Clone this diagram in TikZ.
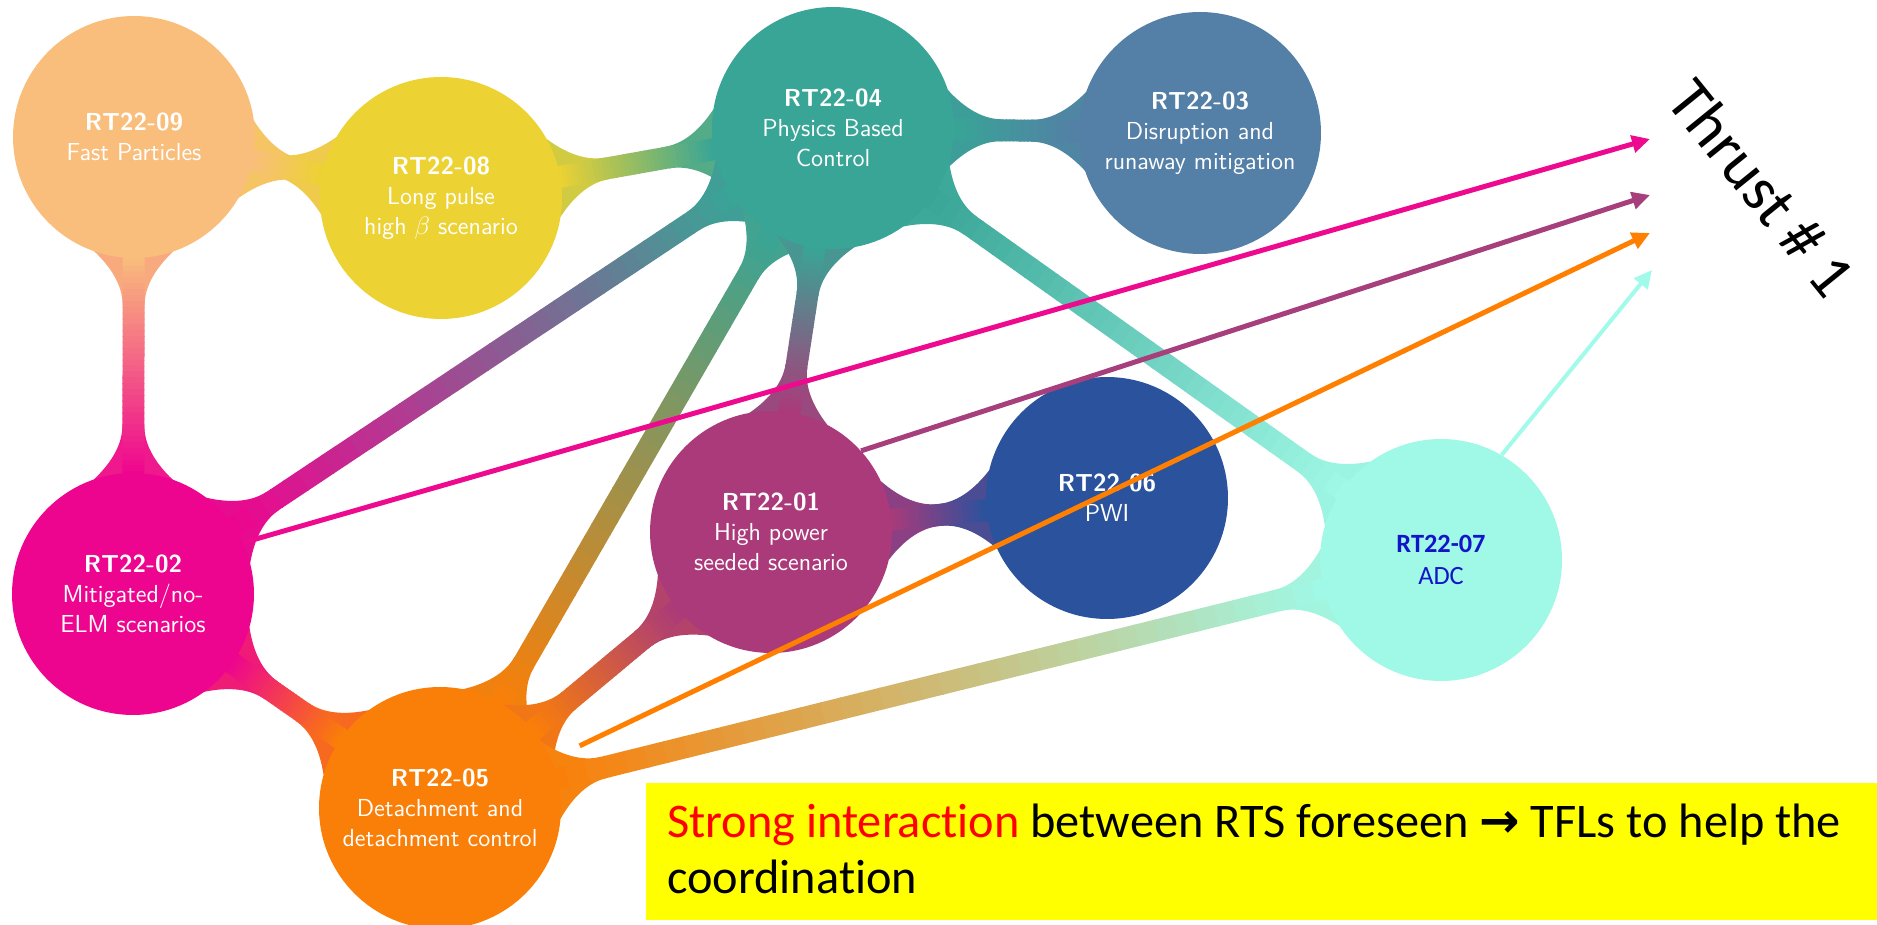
\documentclass[tikz,border=0pt]{standalone}
\usepackage{fontspec}
\newfontfamily\calibri[Ligatures=NoCommon]{Carlito}
\newfontfamily\symbolsfont{DejaVu Sans}
\usetikzlibrary{calc,arrows.meta}

\definecolor{rt09col}{HTML}{F9BE7C}
\definecolor{rt08col}{HTML}{ECD233}
\definecolor{rt04col}{HTML}{38A596}
\definecolor{rt03col}{HTML}{547FA6}
\definecolor{rt02col}{HTML}{EE058F}
\definecolor{rt01col}{HTML}{AA3A7A}
\definecolor{rt06col}{HTML}{2B529D}
\definecolor{rt07col}{HTML}{A0F8E6}
\definecolor{rt05col}{HTML}{FA7F08}
\definecolor{adcblue}{HTML}{1414C8}
\definecolor{arrpink}{HTML}{EE0A8E}
\definecolor{arrplum}{HTML}{A63F7C}
\definecolor{arrorange}{HTML}{FF7F00}
\definecolor{arraqua}{HTML}{A2FAEA}
\definecolor{noteyellow}{HTML}{FFFF00}

\pgfdeclarelayer{background}
\pgfsetlayers{background,main}

% band sizes in pt (one picture unit is 0.02cm)
\def\bandR{68.86}  % circle radius
\def\bandO{5.7}    % how far a band reaches into its circle
\def\bandD{27.0}   % length of the flare at each end
\def\bandW{12.5}   % width of a band
\def\bandH{22.5}   % half width of a flare at the circle
\def\bandM{11.7}   % half width at the first control point
\def\bandHw{6.25}  % half width of a band

\makeatletter
\newcommand\bandlen[2]{%
  \pgfpointdiff{\pgfpointanchor{#1}{center}}{\pgfpointanchor{#2}{center}}%
  \pgfmathsetmacro\blen{veclen(\pgf@x,\pgf@y)}}
\makeatother

% widening where the link from #1 towards #2 leaves circle #1
\newcommand\flare[3]{%
  \pgfmathsetmacro\fla{(\bandR-\bandO)/\blen}%
  \pgfmathsetmacro\flxs{sqrt(\bandR*\bandR-\bandH*\bandH)}%
  \pgfmathsetmacro\flb{\flxs/\blen}%
  \pgfmathsetmacro\flc{(\flxs+(\bandR+\bandD-\flxs)/3)/\blen}%
  \pgfmathsetmacro\fld{(\flxs+2*(\bandR+\bandD-\flxs)/3)/\blen}%
  \pgfmathsetmacro\fle{(\bandR+\bandD)/\blen}%
  \path (#1.center) -- (#2.center)
    coordinate[pos=\fla] (fl0) coordinate[pos=\flb] (fl1) coordinate[pos=\flc] (fl2)
    coordinate[pos=\fld] (fl3) coordinate[pos=\fle] (fl4);
  \fill[#3] ($(fl0)!\bandH pt!90:(#2.center)$) -- ($(fl1)!\bandH pt!90:(#2.center)$)
    .. controls ($(fl2)!\bandM pt!90:(#2.center)$) and ($(fl3)!\bandHw pt!90:(#2.center)$)
    .. ($(fl4)!\bandHw pt!90:(#2.center)$)
    -- ($(fl4)!\bandHw pt!-90:(#2.center)$)
    .. controls ($(fl3)!\bandHw pt!-90:(#2.center)$) and ($(fl2)!\bandM pt!-90:(#2.center)$)
    .. ($(fl1)!\bandH pt!-90:(#2.center)$)
    -- ($(fl0)!\bandH pt!-90:(#2.center)$) -- cycle;
}

% shaded link from circle #1 (colour #3) to circle #2 (colour #4)
\newcommand\band[4]{%
  \bandlen{#1}{#2}%
  \pgfmathsetmacro\bp{50*\bandD/(\blen-2*\bandR)}%
  \pgfmathsetmacro\bspan{\blen-2*\bandR+2*\bandO}%
  \flare{#1}{#2}{#4!\bp!#3}%
  \flare{#2}{#1}{#3!\bp!#4}%
  \foreach \i in {0,...,39}{%
    \pgfmathsetmacro\tfrom{(\bandR-\bandO+\bspan*(\i/40))/\blen}%
    \pgfmathsetmacro\tto{min(1,(\bandR-\bandO+\bspan*((\i+1)/40)+0.6)/\blen)}%
    \pgfmathsetmacro\bq{100*min(1,max(0,(\blen*(\tfrom+\tto)/2-\bandR)/(\blen-2*\bandR)))}%
    \draw[line width=\bandW pt, color=#4!\bq!#3]
      ($(#1.center)!\tfrom!(#2.center)$) -- ($(#1.center)!\tto!(#2.center)$);
  }}

\begin{document}
\begin{tikzpicture}[x=0.02cm, y=-0.02cm,
  rt/.style={circle, minimum size=4.84cm, inner sep=0pt, align=center, text=white,
    font=\sffamily\fontsize{14}{17}\selectfont},
  thrustarrow/.style={line width=0.1cm, -{Triangle[length=0.36cm,width=0.34cm]}},
  notetext/.style={anchor=base west, inner sep=0pt, font=\calibri\fontsize{27.5}{32}\selectfont}]

  \useasboundingbox (0,0) rectangle (1877,925);

  %%%%% circles %%%%%
  \node[rt, fill=rt09col] (rt09) at (134,137) {\textbf{RT22-09}\\Fast Particles};
  \node[rt, fill=rt08col] (rt08) at (441,198) {\textbf{RT22-08}\\Long pulse\\high $\beta$ scenario};
  \node[rt, fill=rt04col] (rt04) at (833,128) {\textbf{RT22-04}\\Physics Based\\Control};
  \node[rt, fill=rt03col] (rt03) at (1200,133) {\textbf{RT22-03}\\Disruption and\\runaway mitigation};
  \node[rt, fill=rt02col] (rt02) at (133,594) {\textbf{RT22-02}\\Mitigated/no-\\ELM scenarios};
  \node[rt, fill=rt01col] (rt01) at (771,532) {\textbf{RT22-01}\\High power\\seeded scenario};
  \node[rt, fill=rt06col] (rt06) at (1107,498) {\textbf{RT22-06}\\PWI};
  \node[rt, fill=rt07col, text=adcblue, font=\calibri\fontsize{15}{18}\selectfont] (rt07) at (1441,560) {\textbf{RT22-07}\\ADC};
  \node[rt, fill=rt05col] (rt05) at (440,808) {\textbf{RT22-05}\\Detachment and\\detachment control};

  %%%%% links %%%%%
  \begin{pgfonlayer}{background}
    \band{rt09}{rt08}{rt09col}{rt08col}
    \band{rt09}{rt02}{rt09col}{rt02col}
    \band{rt08}{rt04}{rt08col}{rt04col}
    \band{rt04}{rt03}{rt04col}{rt03col}
    \band{rt04}{rt02}{rt04col}{rt02col}
    \band{rt04}{rt05}{rt04col}{rt05col}
    \band{rt04}{rt01}{rt04col}{rt01col}
    \band{rt04}{rt07}{rt04col}{rt07col}
    \band{rt01}{rt06}{rt01col}{rt06col}
    \band{rt01}{rt05}{rt01col}{rt05col}
    \band{rt02}{rt05}{rt02col}{rt05col}
    \band{rt05}{rt07}{rt05col}{rt07col}
  \end{pgfonlayer}

  %%%%% thrust #1 %%%%%
  \node[rotate=-51, font=\calibri\fontsize{36}{38}\selectfont] (thrust) at (1762,188) {Thrust \# 1};
  \coordinate (tip1) at (1650,139);
  \coordinate (tip2) at (1650,195);
  \coordinate (tip3) at (1650,233);
  \coordinate (tip4) at (1652,270);
  \draw[thrustarrow, arrpink] (rt02.25) -- (tip1);
  \draw[thrustarrow, arrplum] (rt01.42) -- (tip2);
  \draw[thrustarrow, arrorange] ($(rt05.center)!1.26!(rt05.24)$) -- (tip3);
  \draw[thrustarrow, arraqua, line width=0.08cm] (rt07.60) -- (tip4);

  %%%%% note %%%%%
  \fill[noteyellow] (646,783) rectangle (1877,920);
  \node[notetext] (note1) at (667,837) {\textcolor{red}{Strong interaction} between RTS foreseen {\symbolsfont\bfseries →} TFLs to help the};
  \node[notetext] (note2) at (667,893) {coordination};
\end{tikzpicture}
\end{document}
